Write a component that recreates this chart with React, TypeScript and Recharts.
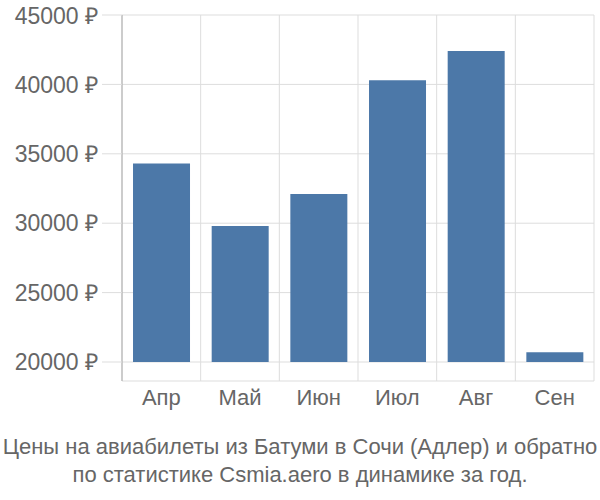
import React from 'react';
import { BarChart, Bar, XAxis, YAxis, CartesianGrid } from 'recharts';

const months = ['Апр', 'Май', 'Июн', 'Июл', 'Авг', 'Сен'];
const prices = [34300, 29800, 32100, 40300, 42400, 20700];
const yTicks = [20000, 25000, 30000, 35000, 40000, 45000];
const baseValue = 20000;

const data = months.map((m, i) => ({ month: m, range: [baseValue, prices[i]] }));

const boundaryLines = ({ offset }: any) => {
  const step = offset.width / months.length;
  return months.map((_, i) => offset.left + step * i).concat(offset.left + offset.width);
};

const App = () => {
  return (
    <div style={{ position: 'absolute', left: 0, top: 0, width: 600, height: 500, background: '#fff', fontFamily: '"Liberation Sans", Arial, sans-serif' }}>
      <BarChart width={600} height={420} data={data} margin={{ top: 15, right: 6, left: 0, bottom: 0 }} barCategoryGap="14%">
        <CartesianGrid stroke="#ddd" verticalCoordinatesGenerator={boundaryLines} />
        <XAxis
          dataKey="month"
          height={39}
          axisLine={false}
          tickLine={false}
          tick={{ fill: '#666', fontSize: 22 }}
          tickMargin={2}
        />
        <YAxis
          width={122}
          domain={[baseValue - 5000 * 19 / 69.4, 45000]}
          ticks={yTicks}
          allowDataOverflow
          axisLine={{ stroke: '#aaa' }}
          tickLine={{ stroke: '#ddd' }}
          tickSize={20}
          tickMargin={4}
          tick={{ fill: '#666', fontSize: 23 }}
          tickFormatter={(v: number) => `${v} ₽`}
        />
        <Bar dataKey="range" fill="#4c78a8" isAnimationActive={false} />
      </BarChart>
      <div style={{ textAlign: 'center', color: '#666', fontSize: 22, lineHeight: '28px', marginTop: 13, whiteSpace: 'nowrap' }}>
        Цены на авиабилеты из Батуми в Сочи (Адлер) и обратно
        <br />
        по статистике Csmia.aero в динамике за год.
      </div>
    </div>
  );
};

export default App;
